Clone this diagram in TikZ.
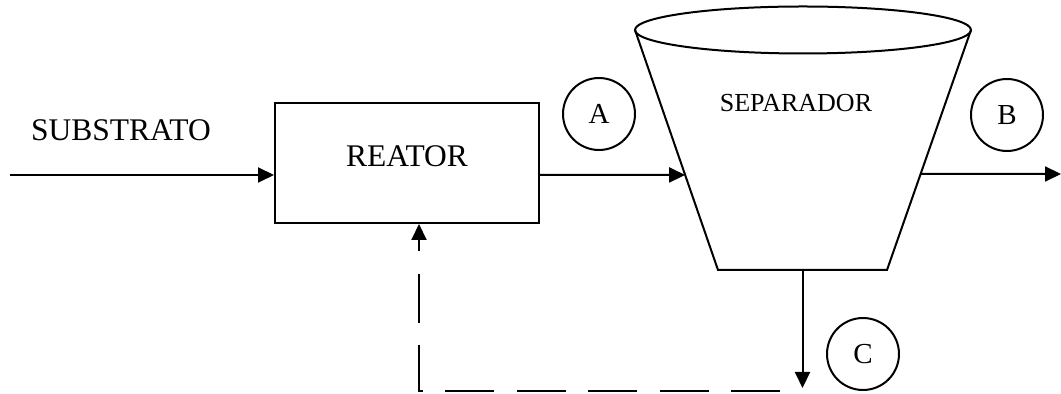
\documentclass[tikz,border=0pt]{standalone}
\usepackage{fontspec}
\setmainfont{Liberation Serif}
\usetikzlibrary{arrows.meta,calc}
\begin{document}
\begin{tikzpicture}[x=0.5pt, y=-0.5pt, line width=1pt,
  seta/.style={-{Triangle[length=8pt,width=7.5pt]}},
  corrente/.style={shape=circle, draw=black, minimum size=36pt, inner sep=0pt, font=\fontsize{14.5}{16}\selectfont},
  texto/.style={inner sep=0pt, font=\fontsize{15.75}{18}\selectfont}]
\useasboundingbox (0,0) rectangle (1061,394);
% reator
\node[shape=rectangle, draw=black, minimum width=132pt, minimum height=60pt] (reator) at (407,163) {};
\node[texto] (treator) at (407,156) {REATOR};
\node[texto] (substrato) at (121,130) {SUBSTRATO};
% separador
\coordinate (tl) at (635,30);
\coordinate (tr) at (971,30);
\coordinate (bl) at (718,270);
\coordinate (br) at (887,270);
\draw (803,30) ellipse [x radius=168, y radius=23.5];
\draw (tl) -- (bl) -- (br) -- (tr);
\node[inner sep=0pt, font=\fontsize{13}{15}\selectfont] (tsep) at (796,103) {SEPARADOR};
\coordinate (sepA) at ($(tl)!0.604!(bl)$);
\coordinate (sepB) at ($(tr)!0.6!(br)$);
\coordinate (sepbase) at ($(bl)!0.5!(br)$);
% correntes
\node[corrente] (A) at (599,114) {A};
\node[corrente] (B) at (1007,115) {B};
\node[corrente] (C) at (863,354) {C};
\coordinate (entrada) at (10,175);
\coordinate (saidaB) at (1061,174);
\coordinate (saidaC) at (802,388);
\coordinate (retorno) at (780,391);
\draw[seta] (entrada) -- (entrada -| reator.west);
\draw[seta] (entrada -| reator.east) -- (sepA);
\draw[seta] (sepB) -- (saidaB);
\draw[seta] (sepbase) -- (sepbase |- saidaC);
\draw[seta, dash pattern=on 24.5pt off 11.25pt] (retorno) -| ([xshift=6pt]reator.south);
\end{tikzpicture}
\end{document}
